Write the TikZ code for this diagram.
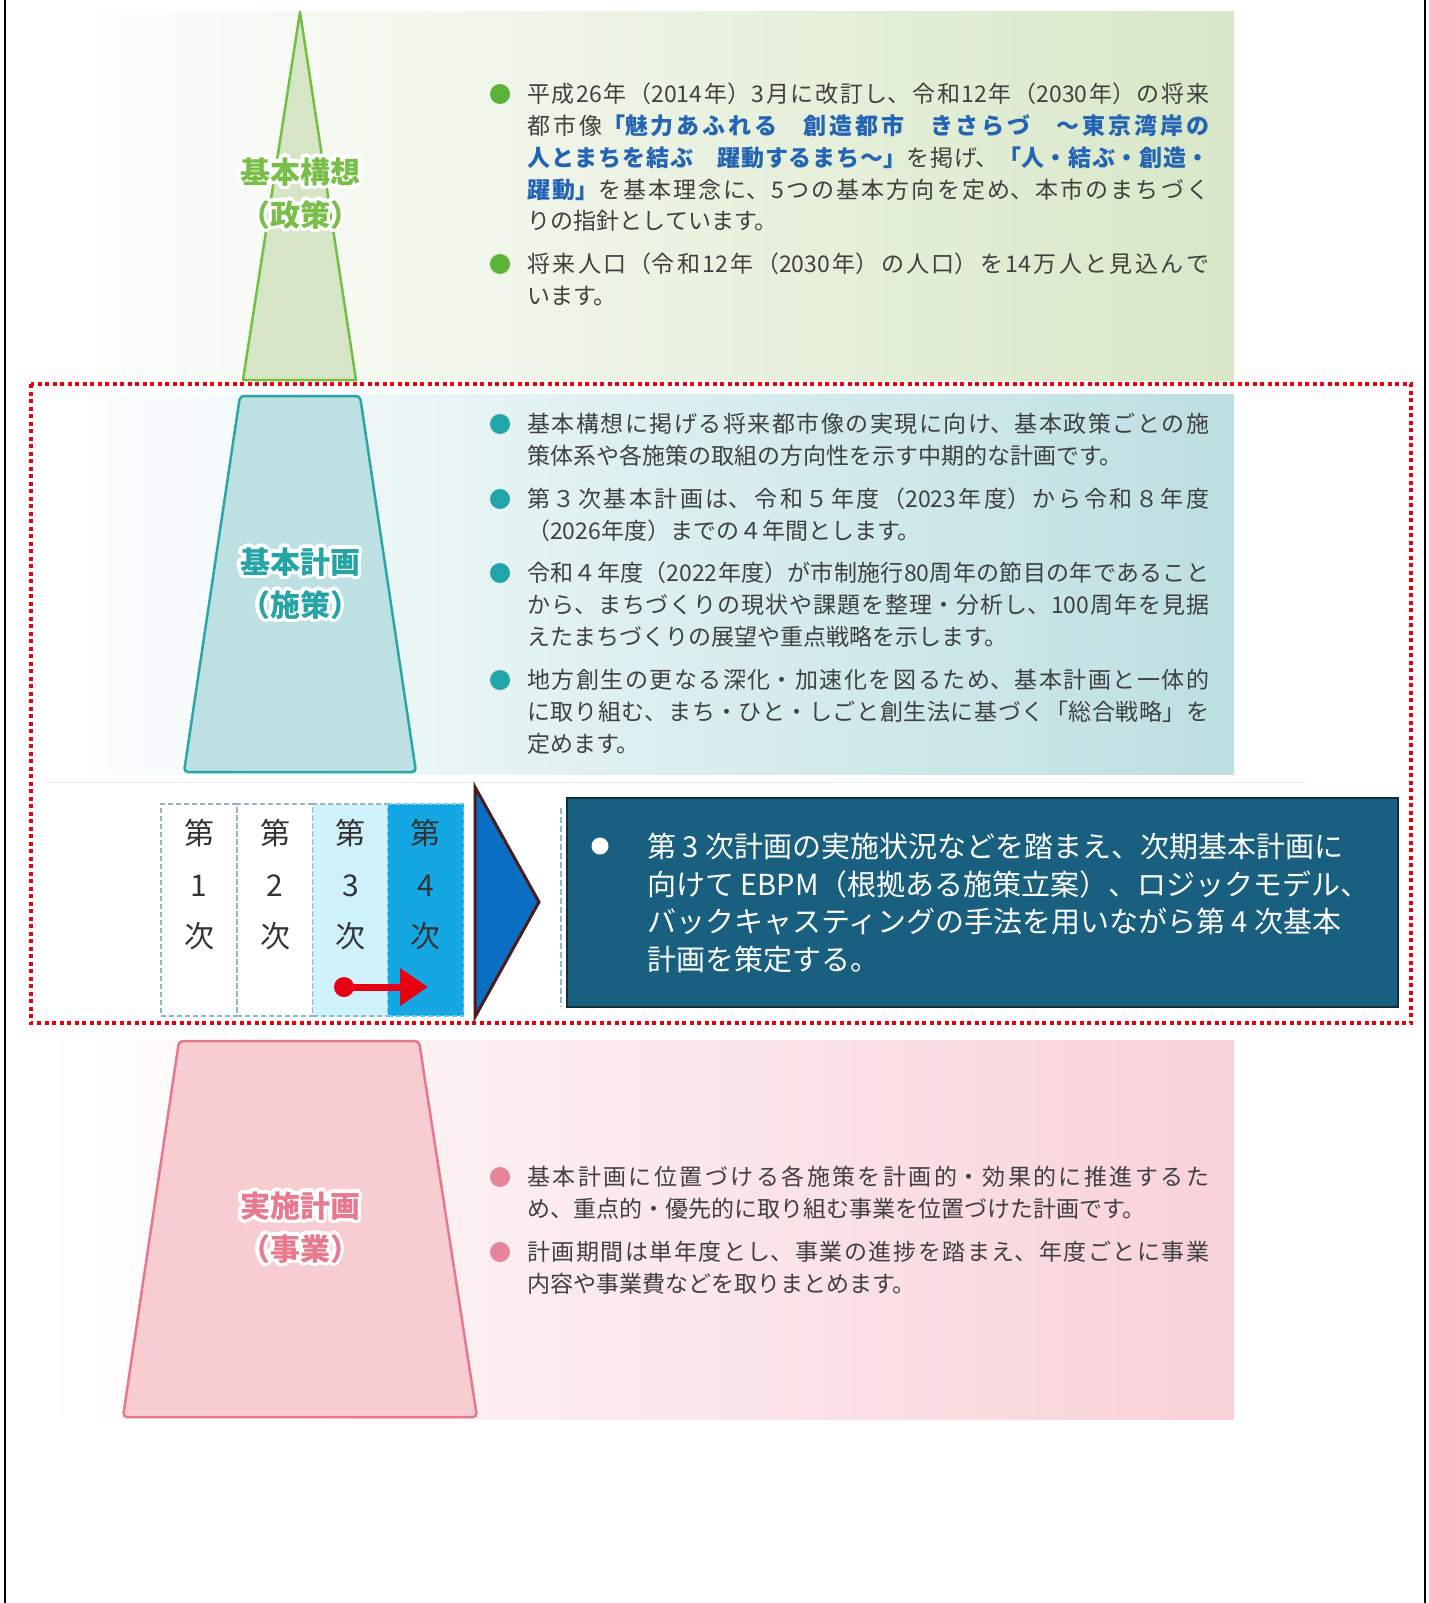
\documentclass[tikz,border=0pt]{standalone}
\usepackage{fontspec}
\setmainfont{Noto Sans CJK JP}
\usetikzlibrary{arrows.meta,calc}
\XeTeXlinebreaklocale "ja"
\XeTeXlinebreakskip=0pt plus 6pt
\definecolor{txt}{HTML}{404040}
\definecolor{gR}{HTML}{D8E7C7}
\definecolor{tR}{HTML}{BCDFE2}
\definecolor{pR}{HTML}{F8D2D8}
\definecolor{gFill}{HTML}{D6E5C6}
\definecolor{gLine}{HTML}{74BE44}
\definecolor{tFill}{HTML}{BDE0E3}
\definecolor{tLine}{HTML}{2AA6A6}
\definecolor{pFill}{HTML}{F8CDD2}
\definecolor{pLine}{HTML}{E5788B}
\definecolor{gLab}{HTML}{78BE48}
\definecolor{tLab}{HTML}{25A4A6}
\definecolor{pLab}{HTML}{E8798E}
\definecolor{gBul}{HTML}{5BB33A}
\definecolor{tBul}{HTML}{21A5A8}
\definecolor{pBul}{HTML}{E8849A}
\definecolor{blueT}{HTML}{2464B4}
\definecolor{cellB}{HTML}{8CB8C8}
\definecolor{cell3}{HTML}{CFF1FA}
\definecolor{cell4}{HTML}{14A7E4}
\definecolor{triB}{HTML}{0A6FC2}
\definecolor{triL}{HTML}{4A1C1C}
\definecolor{boxB}{HTML}{185F80}
\definecolor{boxL}{HTML}{0E2F40}
\definecolor{redA}{HTML}{E60012}
\definecolor{dotR}{HTML}{E8000B}
\newcommand\bodyf{\fontsize{23pt}{31.7pt}\selectfont\parindent=0pt}
\newcommand\fl{\noindent\rule{0pt}{22pt}}
\newcommand\B[1]{\textcolor{blueT}{\bfseries #1}}
\newcommand\halonode[5]{%
  \foreach \ang [count=\k] in {0,22.5,...,337.5}{%
    \node[lbl,text=white] (#1h\k) at ([shift={(\ang:3.5)}]#2,#3) {#5};}
  \node[lbl,text=#4] (#1) at (#2,#3) {#5};}
\begin{document}
\begin{tikzpicture}[x=1pt,y=-1pt,
  para/.style={anchor=north west,text width=682pt,inner sep=0pt,align=justify,font=\bodyf,text=txt},
  lbl/.style={font=\fontsize{30pt}{36pt}\selectfont\bfseries,inner sep=0pt},
  bul/.style={circle,inner sep=0pt,minimum size=20pt},
  cellbox/.style={draw=cellB,dash pattern=on 5pt off 3pt,line width=1.3pt,minimum width=76pt,minimum height=212pt,inner sep=0pt},
  celltxt/.style={font=\fontsize{30pt}{36pt}\selectfont,text=black!80,inner sep=0pt},
  dtxt/.style={anchor=base west,font=\fontsize{29pt}{36pt}\selectfont,text=white,inner sep=0pt}]
\useasboundingbox (0,0) rectangle (1428,1603);
% frame
\draw[line width=2pt] (5,0) -- (5,1603);
\draw[line width=2pt] (1425,0) -- (1425,1603);
% bands
\shade[left color=white,right color=gR] (46,12) rectangle (1234,380);
\shade[left color=white,right color=tR] (46,394) rectangle (1234,774);
\shade[left color=white,right color=pR] (46,1040) rectangle (1234,1419);
\draw[black!7,line width=1pt] (46,782) -- (1308,782);
% shapes
\draw[gLine,fill=gFill,line width=2.5pt,line join=round] (300,12) -- (356,380) -- (243,380) -- cycle;
\draw[tLine,fill=tFill,line width=2.5pt,rounded corners=4pt] (240,396) -- (360,396) -- (416,772) -- (184,772) -- cycle;
\draw[pLine,fill=pFill,line width=2.5pt,rounded corners=4pt] (179,1041) -- (419,1041) -- (477,1417) -- (123,1417) -- cycle;
% labels
\halonode{labA}{300}{172}{gLab}{基本構想}
\halonode{labB}{300}{215}{gLab}{（政策）}
\halonode{labC}{300}{562}{tLab}{基本計画}
\halonode{labD}{300}{605}{tLab}{（施策）}
\halonode{labE}{300}{1206}{pLab}{実施計画}
\halonode{labF}{300}{1249}{pLab}{（事業）}
% green bullets
\node[bul,fill=gBul] (gb1) at (500,94) {};
\node[bul,fill=gBul] (gb2) at (500,264) {};
\node[para] (gp1) at (527,80.7) {\fl 平成26年（2014年）3月に改訂し、令和12年（2030年）の将来\linebreak
都市像\B{「魅力あふれる　創造都市　きさらづ　～東京湾岸の\linebreak
人とまちを結ぶ　躍動するまち～」}を掲げ、\B{「人・結ぶ・創造・\linebreak
躍動」}を基本理念に、5つの基本方向を定め、本市のまちづく\linebreak
りの指針としています。};
\node[para] (gp2) at (527,250.7) {\fl 将来人口（令和12年（2030年）の人口）を14万人と見込んで\linebreak
います。};
% teal bullets
\node[bul,fill=tBul] (tb1) at (500,424) {};
\node[bul,fill=tBul] (tb2) at (500,499) {};
\node[bul,fill=tBul] (tb3) at (500,573) {};
\node[bul,fill=tBul] (tb4) at (500,680) {};
\node[para] (tp1) at (527,410.7) {\fl 基本構想に掲げる将来都市像の実現に向け、基本政策ごとの施\linebreak
策体系や各施策の取組の方向性を示す中期的な計画です。};
\node[para] (tp2) at (527,485.7) {\fl 第３次基本計画は、令和５年度（2023年度）から令和８年度\linebreak
（2026年度）までの４年間とします。};
\node[para] (tp3) at (527,559.7) {\fl 令和４年度（2022年度）が市制施行80周年の節目の年であること\linebreak
から、まちづくりの現状や課題を整理・分析し、100周年を見据\linebreak
えたまちづくりの展望や重点戦略を示します。};
\node[para] (tp4) at (527,666.7) {\fl 地方創生の更なる深化・加速化を図るため、基本計画と一体的\linebreak
に取り組む、まち・ひと・しごと創生法に基づく「総合戦略」を\linebreak
定めます。};
% pink bullets
\node[bul,fill=pBul] (pb1) at (500,1177) {};
\node[bul,fill=pBul] (pb2) at (500,1252) {};
\node[para] (pp1) at (527,1163.7) {\fl 基本計画に位置づける各施策を計画的・効果的に推進するた\linebreak
め、重点的・優先的に取り組む事業を位置づけた計画です。};
\node[para] (pp2) at (527,1238.7) {\fl 計画期間は単年度とし、事業の進捗を踏まえ、年度ごとに事業\linebreak
内容や事業費などを取りまとめます。};
% timeline cells
\node[cellbox] (c1) at (199,910) {};
\node[cellbox] (c2) at (275,910) {};
\node[cellbox,fill=cell3] (c3) at (350.5,910) {};
\node[cellbox,fill=cell4,draw=cell4!60!white] (c4) at (425.5,910) {};
\foreach \cx/\n [count=\i] in {199/1,275/2,350.5/3,425.5/4}{
  \node[celltxt] (ct\i a) at (\cx,833) {第};
  \node[celltxt] (ct\i b) at (\cx,886) {\n};
  \node[celltxt] (ct\i c) at (\cx,936) {次};
}
% red arrow
\coordinate (rdot) at (344,987);
\coordinate (rtip) at (428,987);
\fill[redA] (rdot) circle (10pt);
\draw[redA,line width=7pt,-{Triangle[length=28pt,width=36pt]}] (rdot) -- (rtip);
% blue triangle arrow
\draw[triL,fill=triB,line width=3pt,line join=miter] (475,787) -- (539,902) -- (475,1017) -- cycle;
% dashed line and dark box
\draw[cellB,line width=1.2pt,dash pattern=on 6pt off 3pt] (561,808) -- (561,1007);
\node[draw=boxL,fill=boxB,line width=2.5pt,minimum width=831pt,minimum height=209pt,inner sep=0pt] (dbox) at (982.5,902.5) {};
\node[circle,fill=white,inner sep=0pt,minimum size=17pt] (dbul) at (600,846) {};
\node[dtxt] (dl1) at (647,857) {第 3 次計画の実施状況などを踏まえ、次期基本計画に};
\node[dtxt] (dl2) at (647,895) {向けて EBPM（根拠ある施策立案）、ロジックモデル、};
\node[dtxt] (dl3) at (647,932) {バックキャスティングの手法を用いながら第 4 次基本};
\node[dtxt] (dl4) at (647,970) {計画を策定する。};
% red dotted frame
\draw[dotR,line width=4pt,dash pattern=on 4pt off 3.5pt] (31,384) rectangle (1411,1023);
\end{tikzpicture}
\end{document}
